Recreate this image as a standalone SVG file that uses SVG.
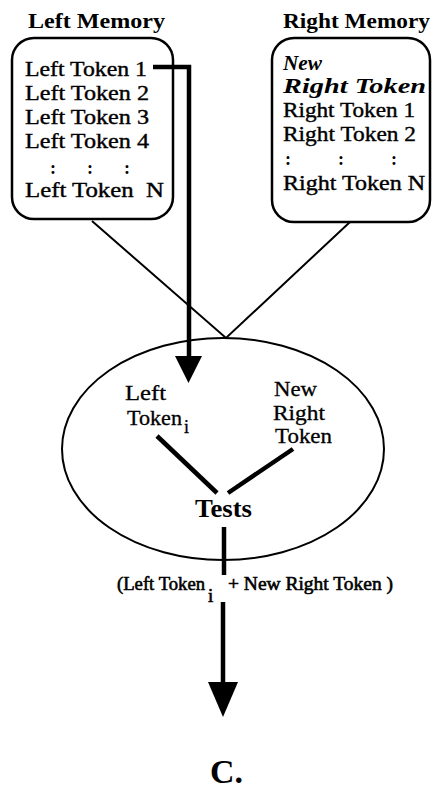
<svg xmlns="http://www.w3.org/2000/svg" width="434" height="789" viewBox="0 0 434 789">
  <style>
    text { font-family: "Liberation Serif", "Times New Roman", serif; fill: #000; }
    .title { font-size: 22px; font-weight: bold; }
    .tok { font-size: 22px; stroke: #000; stroke-width: 0.4; }
    .dots { font-size: 18px; font-weight: bold; }
    .new { font-size: 21px; font-weight: bold; font-style: italic; }
    .in { font-size: 21px; stroke: #000; stroke-width: 0.3; }
    .sub { font-size: 18px; stroke: #000; stroke-width: 0.3; }
    .tests { font-size: 26px; font-weight: bold; }
    .lbl { font-size: 19px; stroke: #000; stroke-width: 0.6; }
    .cap { font-size: 33px; font-weight: bold; }
    .box { fill: none; stroke: #000; stroke-width: 2.5; }
    .thin { fill: none; stroke: #000; stroke-width: 2; }
    .thick { fill: none; stroke: #000; stroke-width: 4.5; }
  </style>
  <rect width="434" height="789" fill="#fff"/>

  <!-- left memory -->
  <g id="left-memory">
    <text class="title" x="28" y="28" textLength="137" lengthAdjust="spacingAndGlyphs">Left Memory</text>
    <rect class="box" x="12" y="38" width="161" height="181" rx="22" ry="22"/>
    <text class="tok" x="25" y="76" textLength="122" lengthAdjust="spacingAndGlyphs">Left Token 1</text>
    <text class="tok" x="25" y="100" textLength="124" lengthAdjust="spacingAndGlyphs">Left Token 2</text>
    <text class="tok" x="25" y="124" textLength="124" lengthAdjust="spacingAndGlyphs">Left Token 3</text>
    <text class="tok" x="25" y="148" textLength="124" lengthAdjust="spacingAndGlyphs">Left Token 4</text>
    <text class="dots" x="50" y="174">:</text>
    <text class="dots" x="87" y="174">:</text>
    <text class="dots" x="124" y="174">:</text>
    <text class="tok" x="25" y="197" textLength="139" lengthAdjust="spacingAndGlyphs" xml:space="preserve">Left Token  N</text>
  </g>

  <!-- right memory -->
  <g id="right-memory">
    <text class="title" x="283" y="28" textLength="147" lengthAdjust="spacingAndGlyphs">Right Memory</text>
    <rect class="box" x="272" y="38" width="158" height="184" rx="22" ry="22"/>
    <text class="new" x="283" y="70" textLength="39" lengthAdjust="spacingAndGlyphs">New</text>
    <text class="new" x="283" y="93" textLength="143" lengthAdjust="spacingAndGlyphs">Right Token</text>
    <text class="tok" x="283" y="117" textLength="132" lengthAdjust="spacingAndGlyphs">Right Token 1</text>
    <text class="tok" x="283" y="141" textLength="133" lengthAdjust="spacingAndGlyphs">Right Token 2</text>
    <text class="dots" x="285" y="165">:</text>
    <text class="dots" x="338" y="165">:</text>
    <text class="dots" x="391" y="165">:</text>
    <text class="tok" x="283" y="190" textLength="142" lengthAdjust="spacingAndGlyphs">Right Token N</text>
  </g>

  <!-- join node -->
  <g id="join">
    <ellipse class="thin" cx="223" cy="449" rx="161" ry="111"/>
    <text class="in" x="125" y="400" textLength="41" lengthAdjust="spacingAndGlyphs">Left</text>
    <text class="in" x="127" y="425" textLength="55" lengthAdjust="spacingAndGlyphs">Token</text>
    <text class="sub" x="184" y="433">i</text>
    <text class="in" x="274" y="396" textLength="43" lengthAdjust="spacingAndGlyphs">New</text>
    <text class="in" x="273" y="420" textLength="52" lengthAdjust="spacingAndGlyphs">Right</text>
    <text class="in" x="275" y="443" textLength="57" lengthAdjust="spacingAndGlyphs">Token</text>
    <text class="tests" x="195" y="517" textLength="57" lengthAdjust="spacingAndGlyphs">Tests</text>
  </g>

  <!-- output label -->
  <g id="result">
    <text class="lbl" x="117" y="590" textLength="88" lengthAdjust="spacingAndGlyphs">(Left Token</text>
    <text class="lbl" x="208" y="602" font-size="15">i</text>
    <text class="lbl" x="228" y="590" textLength="165" lengthAdjust="spacingAndGlyphs">+ New Right Token )</text>
  </g>

  <g id="caption">
    <text class="cap" x="210" y="783" textLength="33" lengthAdjust="spacingAndGlyphs">C.</text>
  </g>

  <!-- connectors -->
  <g id="connectors">
    <polyline class="thin" points="92,221 226,338 350,222"/>
    <polyline class="thick" points="153,67 189,67 189,358"/>
    <polygon points="175,356 202,356 188.5,383" fill="#000"/>
    <line class="thick" x1="157" y1="436" x2="217" y2="493"/>
    <line class="thick" x1="293" y1="449" x2="228" y2="493"/>
    <line class="thick" x1="224" y1="527" x2="224" y2="575"/>
    <line class="thick" x1="223" y1="602" x2="223" y2="684"/>
    <polygon points="208,682 238,682 223,717" fill="#000"/>
  </g>
</svg>
